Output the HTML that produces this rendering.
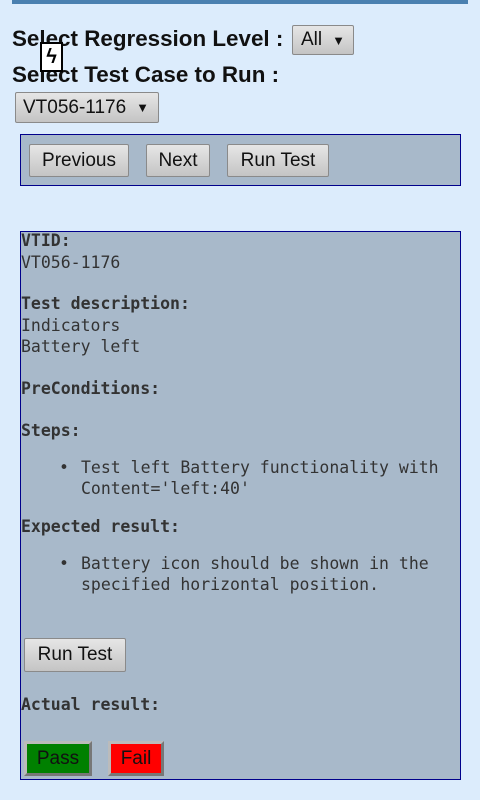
<!DOCTYPE html>
<html><head><style>
*{margin:0;padding:0;box-sizing:border-box}
body{width:480px;height:800px;background:#dcecfc;position:relative;overflow:hidden;font-family:"Liberation Sans",sans-serif}
.a{position:absolute}
.h{font-weight:bold;font-size:22.4px;color:#111;white-space:nowrap;line-height:26px}
.btn{position:absolute;background:linear-gradient(#e6e6e6,#c4c4c4);border:1px solid #8a8a8a;border-radius:2px;font-size:19px;color:#111;text-align:center;display:flex;align-items:center;justify-content:center}
.panel{position:absolute;left:20px;width:441px;border:1px solid #00008b;background:#a8b9ca}
.m{position:absolute;font-family:"DejaVu Sans Mono","Liberation Mono",monospace;font-size:16.5px;color:#333;line-height:22px;white-space:nowrap}
.b{font-weight:600}
</style></head><body>
<div class="a" style="left:12px;top:0;width:456px;height:4px;background:#4a80b0"></div>
<div class="a h" style="left:12px;top:26px">Select Regression Level :</div>
<div class="a h" style="left:12px;top:62px">Select Test Case to Run :</div>
<div class="a" style="left:40px;top:42px;width:23px;height:30px;background:#fff;border:2px solid #000;font-size:20px;line-height:26px;text-align:center;font-weight:bold">ϟ</div>
<div class="btn" style="left:292px;top:25px;width:62px;height:30px;justify-content:flex-start;padding-left:8px">All<span style="font-size:13px;margin-left:10px">▼</span></div>
<div class="btn" style="left:15px;top:92px;width:144px;height:31px;justify-content:flex-start;padding-left:7px">VT056-1176<span style="font-size:13px;margin-left:10px">▼</span></div>
<div class="panel" style="top:134px;height:52px"></div>
<div class="btn" style="left:29px;top:144px;width:100px;height:33px">Previous</div>
<div class="btn" style="left:146px;top:144px;width:64px;height:33px">Next</div>
<div class="btn" style="left:227px;top:144px;width:102px;height:33px">Run Test</div>
<div class="panel" style="top:231px;height:549px"></div>
<div class="m b" style="left:21px;top:230px">VTID:</div>
<div class="m" style="left:21px;top:252px">VT056-1176</div>
<div class="m b" style="left:21px;top:293px">Test description:</div>
<div class="m" style="left:21px;top:315px">Indicators</div>
<div class="m" style="left:21px;top:336px">Battery left</div>
<div class="m b" style="left:21px;top:378px">PreConditions:</div>
<div class="m b" style="left:21px;top:420px">Steps:</div>
<div class="m" style="left:59px;top:457px">•</div>
<div class="m" style="left:81px;top:457px">Test left Battery functionality with</div>
<div class="m" style="left:81px;top:478px">Content='left:40'</div>
<div class="m b" style="left:21px;top:516px">Expected result:</div>
<div class="m" style="left:59px;top:553px">•</div>
<div class="m" style="left:81px;top:553px">Battery icon should be shown in the</div>
<div class="m" style="left:81px;top:574px">specified horizontal position.</div>
<div class="btn" style="left:24px;top:638px;width:102px;height:34px">Run Test</div>
<div class="m b" style="left:21px;top:694px">Actual result:</div>
<div class="btn" style="left:24px;top:741px;width:68px;height:35px;background:#008000;border:3px solid #777;border-top-color:#bbb;border-left-color:#bbb;border-radius:0">Pass</div>
<div class="btn" style="left:108px;top:741px;width:56px;height:35px;background:#ff0000;border:3px solid #777;border-top-color:#bbb;border-left-color:#bbb;border-radius:0">Fail</div>
</body></html>
